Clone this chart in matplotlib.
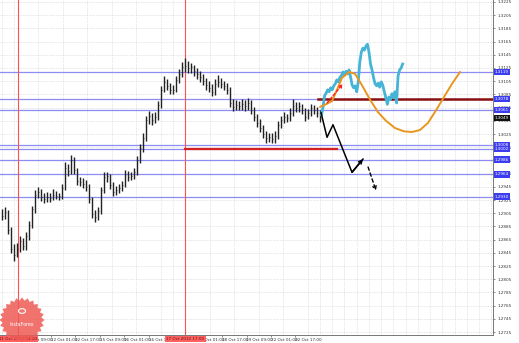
import numpy as np
import matplotlib
matplotlib.use("Agg")
import matplotlib.pyplot as plt
from matplotlib.patches import Polygon, Circle
import matplotlib.transforms as mtransforms

# ---------------- data ----------------
hist_close = [1.2901, 1.2907, 1.2880, 1.2851, 1.2842, 1.2851, 1.2863, 1.2855, 1.2870, 1.2887,
              1.2911, 1.2933, 1.2937, 1.2930, 1.2927, 1.2930, 1.2928, 1.2933, 1.2931, 1.2931,
              1.2943, 1.2974, 1.2969, 1.2986, 1.2970, 1.2954, 1.2952, 1.2949, 1.2945, 1.2927,
              1.2904, 1.2899, 1.2908, 1.2940, 1.2960, 1.2961, 1.2948, 1.2937, 1.2940, 1.2943,
              1.2948, 1.2964, 1.2960, 1.2961, 1.2967, 1.2986, 1.3004, 1.3019, 1.3046, 1.3052,
              1.3046, 1.3051, 1.3069, 1.3092, 1.3104, 1.3098, 1.3092, 1.3092, 1.3107, 1.3116,
              1.3126, 1.3128, 1.3125, 1.3126, 1.3120, 1.3116, 1.3111, 1.3105, 1.3099, 1.3095,
              1.3089, 1.3101, 1.3104, 1.3101, 1.3098, 1.3092, 1.3072, 1.3066, 1.3069, 1.3067,
              1.3070, 1.3067, 1.3072, 1.3061, 1.3051, 1.3042, 1.3034, 1.3025, 1.3019, 1.3020,
              1.3017, 1.3022, 1.3039, 1.3046, 1.3051, 1.3049, 1.3057, 1.3067, 1.3064, 1.3067,
              1.3061, 1.3051, 1.3057, 1.3064, 1.3061, 1.3057, 1.3049]
hist_high = [1.2912, 1.2915, 1.2910, 1.2884, 1.2858, 1.2860, 1.2870, 1.2868, 1.2876, 1.2893,
             1.2916, 1.2940, 1.2945, 1.2942, 1.2936, 1.2937, 1.2935, 1.2941, 1.2938, 1.2936,
             1.2949, 1.2982, 1.2980, 1.2993, 1.2990, 1.2973, 1.2960, 1.2958, 1.2955, 1.2950,
             1.2930, 1.2910, 1.2914, 1.2945, 1.2967, 1.2968, 1.2965, 1.2952, 1.2946, 1.2950,
             1.2954, 1.2970, 1.2969, 1.2967, 1.2974, 1.2992, 1.3010, 1.3026, 1.3053, 1.3060,
             1.3057, 1.3058, 1.3075, 1.3098, 1.3113, 1.3109, 1.3102, 1.3099, 1.3113, 1.3124,
             1.3134, 1.3140, 1.3135, 1.3133, 1.3130, 1.3125, 1.3121, 1.3116, 1.3110, 1.3106,
             1.3100, 1.3108, 1.3115, 1.3110, 1.3106, 1.3103, 1.3096, 1.3078, 1.3076, 1.3075,
             1.3078, 1.3076, 1.3080, 1.3076, 1.3066, 1.3056, 1.3047, 1.3039, 1.3030, 1.3027,
             1.3026, 1.3029, 1.3045, 1.3053, 1.3058, 1.3056, 1.3064, 1.3078, 1.3073, 1.3074,
             1.3071, 1.3064, 1.3063, 1.3071, 1.3069, 1.3066, 1.3062]
hist_low = [1.2895, 1.2896, 1.2874, 1.2845, 1.2832, 1.2838, 1.2846, 1.2849, 1.2850, 1.2865,
            1.2882, 1.2906, 1.2928, 1.2924, 1.2921, 1.2922, 1.2922, 1.2925, 1.2926, 1.2925,
            1.2927, 1.2940, 1.2962, 1.2964, 1.2964, 1.2948, 1.2946, 1.2943, 1.2938, 1.2921,
            1.2898, 1.2892, 1.2894, 1.2904, 1.2935, 1.2953, 1.2942, 1.2931, 1.2932, 1.2935,
            1.2938, 1.2944, 1.2954, 1.2955, 1.2957, 1.2963, 1.2981, 1.2998, 1.3014, 1.3040,
            1.3039, 1.3042, 1.3046, 1.3064, 1.3088, 1.3091, 1.3086, 1.3085, 1.3088, 1.3102,
            1.3111, 1.3119, 1.3118, 1.3117, 1.3113, 1.3109, 1.3104, 1.3099, 1.3092, 1.3088,
            1.3082, 1.3084, 1.3096, 1.3094, 1.3091, 1.3086, 1.3066, 1.3060, 1.3061, 1.3061,
            1.3062, 1.3060, 1.3062, 1.3055, 1.3045, 1.3036, 1.3028, 1.3019, 1.3012, 1.3013,
            1.3011, 1.3012, 1.3018, 1.3034, 1.3041, 1.3043, 1.3044, 1.3052, 1.3058, 1.3059,
            1.3055, 1.3045, 1.3047, 1.3052, 1.3055, 1.3051, 1.3043]

actual_hours = list(range(210, 264))
actual_price = [1.3054, 1.3066, 1.3083, 1.3087, 1.3092, 1.3089, 1.3095, 1.3092, 1.3098, 1.3101,
                1.3107, 1.3104, 1.3111, 1.3113, 1.3119, 1.3114, 1.3120, 1.3116, 1.3122, 1.3111,
                1.3099, 1.3095, 1.3098, 1.3089, 1.3104, 1.3134, 1.3149, 1.3155, 1.3152, 1.3158,
                1.3161, 1.3149, 1.3131, 1.3122, 1.3110, 1.3101, 1.3098, 1.3102, 1.3096, 1.3104,
                1.3099, 1.3089, 1.3080, 1.3070, 1.3081, 1.3077, 1.3086, 1.3080, 1.3089, 1.3072,
                1.3113, 1.3122, 1.3125, 1.3131]

orange_hours = [209.0, 212.9, 216.9, 220.1, 223.4, 228.0, 231.9, 236.4, 241.7, 246.9,
                252.1, 258.0, 263.9, 269.1, 274.3, 279.6, 284.8, 290.0, 295.2, 300.5]
orange_price = [1.3066, 1.3070, 1.3075, 1.3092, 1.3110, 1.3119, 1.3116, 1.3099, 1.3077, 1.3058,
                1.3045, 1.3034, 1.3029, 1.3028, 1.3031, 1.3042, 1.3061, 1.3081, 1.3101, 1.3119]

zig_hours = [209.7, 213.6, 217.5, 229.9, 237.1]
zig_price = [1.3057, 1.3020, 1.3039, 1.2967, 1.2987]
zig_dash_hours = [240.4, 245.6]
zig_dash_price = [1.2975, 1.2939]
red_arrow_hours = [213.6, 224.0]
red_arrow_price = [1.3072, 1.3101]

blue_levels = [1.3119, 1.3078, 1.3061, 1.3008, 1.3002, 1.2986, 1.2964, 1.2930]
darkred_level = 1.3078
darkred_start = 208.0
red_level = 1.3002
red_span = [121.0, 220.0]
vlines_hours = [11.75, 121.0]
vline_labels = ["11 Oct 2012 04:00", "17 Oct 2012 17:00"]

xtick_hours = [17, 33, 49, 65, 81, 97, 129, 145, 161, 177, 193]
xtick_labels = ["11 Oct 09:00", "12 Oct 01:00", "12 Oct 17:00", "15 Oct 09:00", "16 Oct 01:00",
                "16 Oct 17:00", "18 Oct 01:00", "18 Oct 17:00", "19 Oct 09:00", "22 Oct 01:00",
                "22 Oct 17:00"]
price_ticks = [round(1.2725 + 0.002 * k, 4) for k in range(26)]

# ---------------- figure ----------------
W, H = 519, 343
fig = plt.figure(figsize=(W / 100, H / 100), dpi=100)
fig.patch.set_facecolor("white")
ax = fig.add_axes([0, 8 / H, 493 / W, 335 / H])
ax.set_xlim(0, 322)
ax.set_ylim(1.27205, 1.3228)

# grid
ax.set_xticks(np.arange(1, 322, 8), minor=True)
ax.set_yticks(price_ticks)
ax.set_yticklabels([f"{p:.4f}" for p in price_ticks])
ax.set_xticks(xtick_hours)
ax.set_xticklabels(xtick_labels, ha="left")
ax.grid(True, which="minor", axis="x", color="#cfcfcf", linestyle=(0, (1, 1.5)), linewidth=0.5)
ax.grid(True, which="major", axis="y", color="#cfcfcf", linestyle=(0, (1, 1.5)), linewidth=0.5)
ax.tick_params(axis="x", which="minor", length=0)
ax.tick_params(axis="x", which="major", labelsize=3, length=1.5, pad=0.5, width=0.4, colors="#333333")
ax.yaxis.tick_right()
ax.tick_params(axis="y", labelsize=3, length=1.5, pad=1.5, width=0.4, colors="#333333")
for s in ["left", "top"]:
    ax.spines[s].set_visible(False)
for s in ["right", "bottom"]:
    ax.spines[s].set_color("#777777")
    ax.spines[s].set_linewidth(0.7)

# horizontal levels
for lv in blue_levels:
    ax.axhline(lv, color="#8c8cf5", lw=0.9, zorder=2)
ax.plot([darkred_start, 322], [darkred_level, darkred_level], color="#8a1010", lw=1.8, zorder=3)
ax.plot(red_span, [red_level, red_level], color="#d42020", lw=1.6, zorder=3)

# vertical lines
for vh in vlines_hours:
    ax.axvline(vh, color="#ff5050", lw=0.8, zorder=2)

# historical bars
xh = np.linspace(1, 209, len(hist_close))
ax.vlines(xh, hist_low, hist_high, color="#222222", lw=1.0, zorder=4)
ax.hlines(hist_close, xh, xh + 0.9, color="#222222", lw=0.5, zorder=4)

# actual continuation (cyan)
ax.plot(actual_hours, actual_price, color="#45b4d6", lw=2.0, zorder=5)

# forecast curve (orange)
ax.plot(orange_hours, orange_price, color="#e8961e", lw=1.4, zorder=5, solid_capstyle="round")

# black zigzag forecast
ax.plot(zig_hours, zig_price, color="black", lw=1.1, zorder=6)
ax.annotate("", xy=(zig_hours[-1], zig_price[-1]), xytext=(zig_hours[-2], zig_price[-2]),
            arrowprops=dict(arrowstyle="->", color="black", lw=1.1, mutation_scale=6,
                            shrinkA=0, shrinkB=0), zorder=6)
ax.annotate("", xy=(zig_dash_hours[-1], zig_dash_price[-1]),
            xytext=(zig_dash_hours[0], zig_dash_price[0]),
            arrowprops=dict(arrowstyle="->", color="black", lw=1.0, mutation_scale=6,
                            linestyle=(0, (2.5, 2)), shrinkA=0, shrinkB=0), zorder=6)
# red dashed arrow
ax.annotate("", xy=(red_arrow_hours[1], red_arrow_price[1]),
            xytext=(red_arrow_hours[0], red_arrow_price[0]),
            arrowprops=dict(arrowstyle="->", color="#ff2020", lw=1.0, mutation_scale=5,
                            linestyle=(0, (2, 1.5)), shrinkA=0, shrinkB=0), zorder=7)

# right price boxes
trans_r = mtransforms.blended_transform_factory(ax.transAxes, ax.transData)
for lv in blue_levels:
    ax.text(1.004, lv, f"{lv:.4f}", transform=trans_r, ha="left", va="center", fontsize=3,
            color="white", clip_on=False, zorder=10,
            bbox=dict(boxstyle="square,pad=0.3", fc="#3c3cf0", ec="none"))
ax.text(1.004, hist_close[-1], f"{hist_close[-1]:.4f}", transform=trans_r, ha="left",
        va="center", fontsize=3, color="white", clip_on=False, zorder=11,
        bbox=dict(boxstyle="square,pad=0.3", fc="#111111", ec="none"))

# bottom red time boxes
trans_b = mtransforms.blended_transform_factory(ax.transData, ax.transAxes)
for vh, lab in zip(vlines_hours, vline_labels):
    ax.text(vh, -0.006, lab, transform=trans_b, ha="center", va="top", fontsize=3,
            color="#601010", clip_on=False, zorder=12,
            bbox=dict(boxstyle="square,pad=0.3", fc="#ff6060", ec="none"))

# watermark badge (bottom-left)
cx, cy = 22, 320
n = 48
ang = np.linspace(0, 2 * np.pi, n, endpoint=False)
rad = np.where(np.arange(n) % 2 == 0, 22.5, 19.5)
pts = np.column_stack([(cx + rad * np.cos(ang)) / W, (H - (cy + rad * np.sin(ang))) / H])
fig.patches.append(Polygon(pts, closed=True, transform=fig.transFigure, fc="#ee5a55",
                           ec="none", alpha=0.85, zorder=20))
fig.patches.append(Circle((cx / W, (H - 311) / H), 3.5 / W, transform=fig.transFigure,
                          fc="none", ec="white", lw=0.8, zorder=21))
fig.text(cx / W, (H - 324) / H, "InstaForex", ha="center", va="center", fontsize=3.4,
         color="white", zorder=22)

fig.savefig("out.png", dpi=100, facecolor="white")
